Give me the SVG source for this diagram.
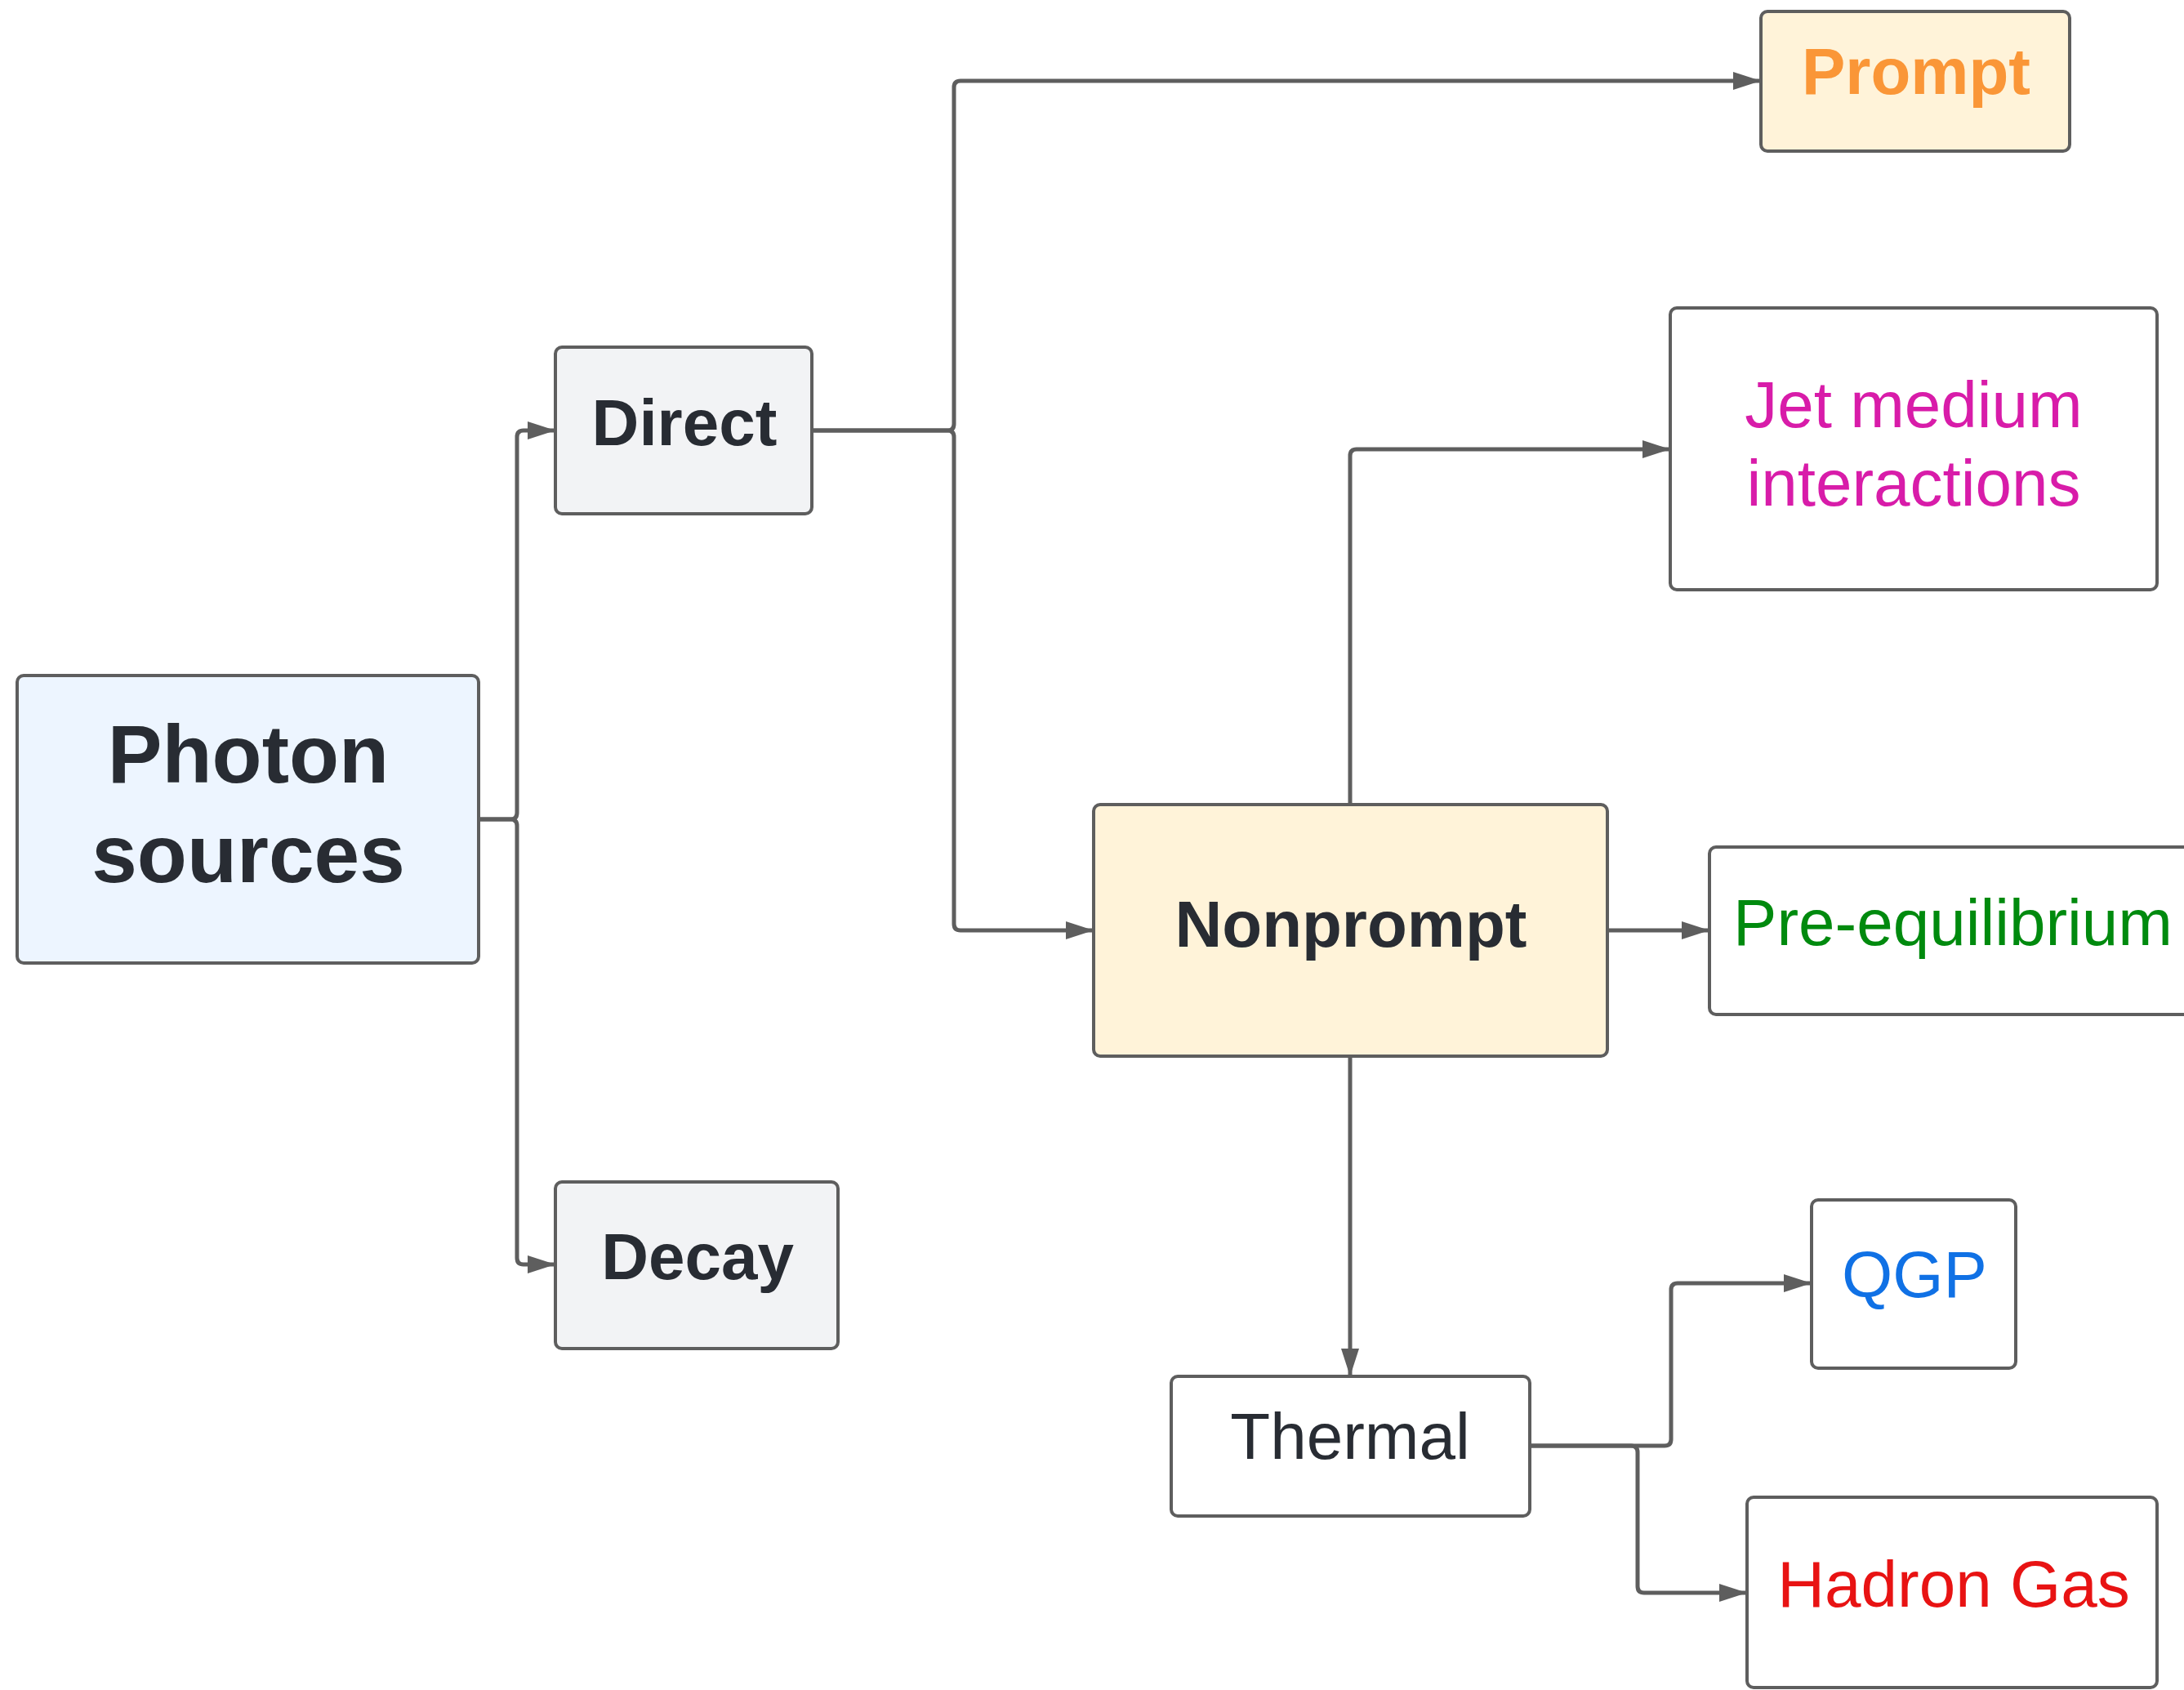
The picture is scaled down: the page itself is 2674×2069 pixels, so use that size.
<svg xmlns="http://www.w3.org/2000/svg" width="2674" height="2069" viewBox="0 0 2674 2069">
<style>
.box{stroke:#5e5e5e;stroke-width:4;}
.t{font-family:"Liberation Sans",Arial,sans-serif;font-size:80px;text-anchor:middle;}
.b{font-weight:bold;}
.dark{fill:#282c33;}
.conn path{fill:none;stroke:#5e5e5e;stroke-width:5;}
</style>
<defs>
<marker id="arr" markerUnits="userSpaceOnUse" markerWidth="40" markerHeight="30" refX="34" refY="11" orient="auto">
<path d="M0,0 L34,11 L0,22 Z" fill="#5e5e5e"/>
</marker>
</defs>
<rect width="2674" height="2069" fill="#ffffff"/>
<g class="conn" id="connectors">
<path d="M586,1003 L625,1003 Q633,1003 633,995 L633,535 Q633,527 641,527 L680,527" marker-end="url(#arr)"/>
<path d="M586,1003 L625,1003 Q633,1003 633,1011 L633,1540 Q633,1548 641,1548 L680,1548" marker-end="url(#arr)"/>
<path d="M994,527 L1160,527 Q1168,527 1168,519 L1168,107 Q1168,99 1176,99 L2156,99" marker-end="url(#arr)"/>
<path d="M994,527 L1160,527 Q1168,527 1168,535 L1168,1131 Q1168,1139 1176,1139 L1339,1139" marker-end="url(#arr)"/>
<path d="M1653,985 L1653,558 Q1653,550 1661,550 L2045,550" marker-end="url(#arr)"/>
<path d="M1962,1139 L2093,1139" marker-end="url(#arr)"/>
<path d="M1653,1293 L1653,1685" marker-end="url(#arr)"/>
<path d="M1873,1770 L2038,1770 Q2046,1770 2046,1762 L2046,1579 Q2046,1571 2054,1571 L2218,1571" marker-end="url(#arr)"/>
<path d="M1873,1770 L1997,1770 Q2005,1770 2005,1778 L2005,1942 Q2005,1950 2013,1950 L2139,1950" marker-end="url(#arr)"/>
</g>
<g id="photon">
<rect class="box" x="21" y="827" width="565" height="352" rx="8" fill="#edf5ff"/>
<text class="t b dark" x="304" y="958" style="font-size:100px">Photon</text>
<text class="t b dark" x="304" y="1080" style="font-size:100px">sources</text>
</g>
<g id="direct">
<rect class="box" x="680" y="425" width="314" height="204" rx="8" fill="#f2f3f5"/>
<text class="t b dark" x="838" y="545">Direct</text>
</g>
<g id="decay">
<rect class="box" x="680" y="1447" width="346" height="204" rx="8" fill="#f2f3f5"/>
<text class="t b dark" x="854" y="1566">Decay</text>
</g>
<g id="prompt">
<rect class="box" x="2156" y="14" width="378" height="171" rx="8" fill="#fff3d9"/>
<text class="t b" x="2346" y="115" fill="#fa9637">Prompt</text>
</g>
<g id="jet">
<rect class="box" x="2045" y="377" width="596" height="345" rx="8" fill="#ffffff"/>
<text class="t" x="2343" y="523" fill="#d81ca9">Jet medium</text>
<text class="t" x="2343" y="619" fill="#d81ca9">interactions</text>
</g>
<g id="nonprompt">
<rect class="box" x="1339" y="985" width="629" height="308" rx="8" fill="#fff3d9"/>
<text class="t b dark" x="1654" y="1159">Nonprompt</text>
</g>
<g id="preequilibrium">
<rect class="box" x="2093" y="1037" width="620" height="205" rx="8" fill="#ffffff"/>
<text class="t" x="2391" y="1157" fill="#008a0e">Pre-equilibrium</text>
</g>
<g id="thermal">
<rect class="box" x="1434" y="1685" width="439" height="171" rx="8" fill="#ffffff"/>
<text class="t dark" x="1653" y="1786">Thermal</text>
</g>
<g id="qgp">
<rect class="box" x="2218" y="1469" width="250" height="206" rx="8" fill="#ffffff"/>
<text class="t" x="2344" y="1588" fill="#1071e5">QGP</text>
</g>
<g id="hadrongas">
<rect class="box" x="2139" y="1833" width="502" height="233" rx="8" fill="#ffffff"/>
<text class="t" x="2392" y="1967" fill="#e81313">Hadron Gas</text>
</g>
</svg>
